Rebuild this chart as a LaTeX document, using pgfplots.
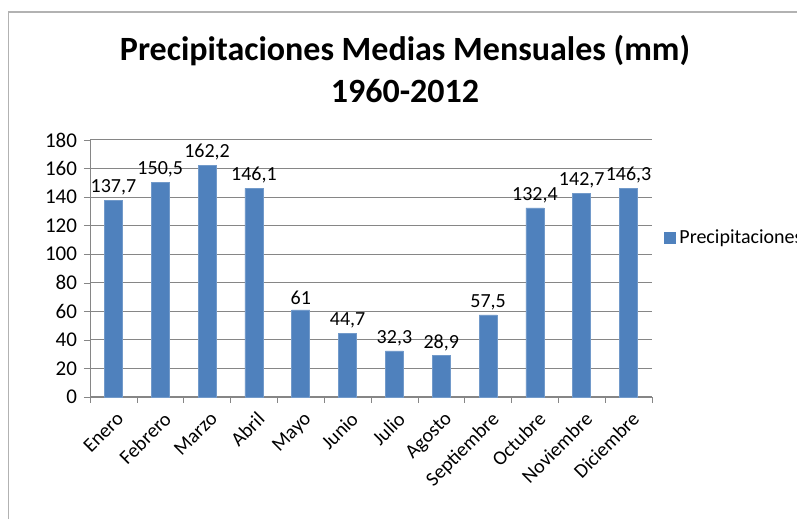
\documentclass[border=0pt]{standalone}
\usepackage{pgfplots}
\pgfplotsset{compat=1.18}
\usepackage{fontspec}
\setmainfont{Carlito}
\definecolor{barblue}{HTML}{4F81BD}
\definecolor{axgray}{HTML}{868686}
\begin{document}
\begin{tikzpicture}
\useasboundingbox (0pt,0pt) rectangle (398.5pt,259.5pt);
\clip (0pt,0pt) rectangle (398.5pt,259.5pt);
\draw[gray!60, line width=0.8pt] (4.25pt,0pt) -- (4.25pt,253.5pt) -- (398.5pt,253.5pt);
\node[font=\bfseries\fontsize{17}{21}\selectfont, align=center] at (202.5pt,225pt) {Precipitaciones Medias Mensuales (mm)\\1960-2012};
\begin{axis}[
  at={(45pt,61pt)}, anchor=south west,
  scale only axis, width=281pt, height=128.5pt,
  ymin=0, ymax=180, ytick={0,20,...,180},
  xmin=-0.5, xmax=11.5,
  xtick={0,...,11},
  xticklabels={Enero,Febrero,Marzo,Abril,Mayo,Junio,Julio,Agosto,Septiembre,Octubre,Noviembre,Diciembre},
  minor xtick={-0.5,0.5,...,11.5},
  major x tick style={draw=none},
  minor x tick style={axgray},
  minor tick length=3pt,
  major tick length=3pt,
  tick align=outside,
  y tick style={axgray},
  axis x line*=bottom, axis y line*=left,
  axis line style={axgray, -},
  ymajorgrids, grid style={axgray, line width=0.5pt},
  x tick label style={rotate=45, anchor=north east, font=\fontsize{10}{12}\selectfont, xshift=1.5pt},
  y tick label style={font=\fontsize{10.5}{12}\selectfont},
  /pgf/number format/assume math mode=true,
  ybar, bar width=9pt,
  nodes near coords,
  nodes near coords style={font=\fontsize{10}{12}\selectfont, /pgf/number format/use comma, /pgf/number format/assume math mode=true, yshift=-1pt},
  legend style={at={(1.02,0.62)}, anchor=west, draw=none, font=\fontsize{10}{12}\selectfont, inner sep=0pt},
  legend image code/.code={\fill[barblue] (0pt,-2.8pt) rectangle (5.6pt,2.8pt);},
  clip=false,
]
\addplot[fill=barblue, draw=barblue!80!white, line width=0.3pt] coordinates {
(0,137.7) (1,150.5) (2,162.2) (3,146.1) (4,61) (5,44.7) (6,32.3) (7,28.9) (8,57.5) (9,132.4) (10,142.7) (11,146.3)};
\addlegendentry{Precipitaciones}
\end{axis}
\end{tikzpicture}
\end{document}
